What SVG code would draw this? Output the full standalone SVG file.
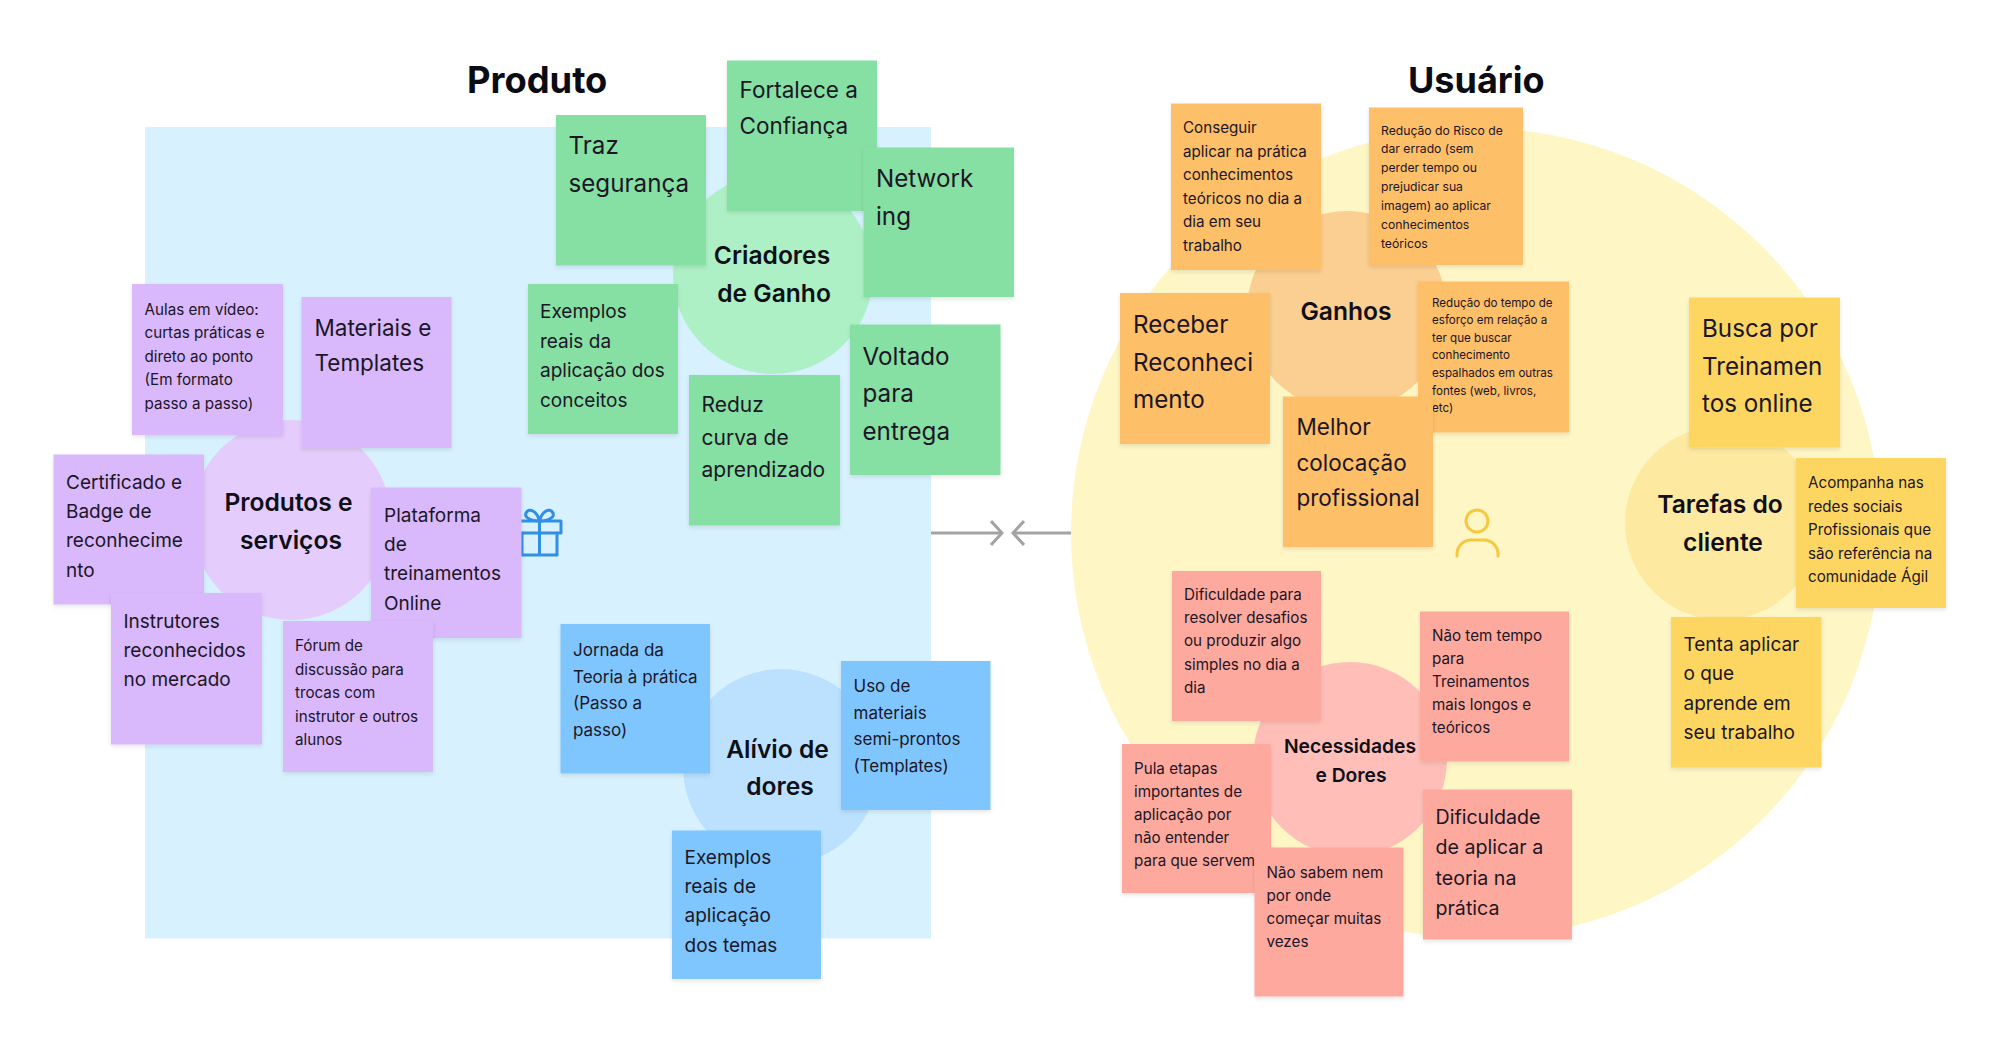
<svg xmlns="http://www.w3.org/2000/svg" width="2000" height="1055" viewBox="0 0 2000 1055">
<style>
text{font-family:Inter,"Liberation Sans",sans-serif;fill:#1c1626}
.t{font-size:36px;font-weight:700;fill:#0b0b14}
.h{font-size:24.6px;font-weight:600;text-anchor:middle;fill:#0f0f18}
.h2{font-size:19.3px}
.l{font-size:24.2px}.m2{font-size:22.5px}.m1{font-size:21px}.m3{font-size:19.6px}.m{font-size:19px}.b{font-size:17px}.s{font-size:15.2px}.xs{font-size:15.2px}.x{font-size:12.2px}.x2{font-size:11.6px}
.n{filter:url(#sh)}
.pu{fill:#d9b8fb}.gr{fill:#86dfa3}.bl{fill:#7fc6ff}.or{fill:#fdbf67}.re{fill:#fea99e}.ye{fill:#fdd662}
.ic{fill:none;stroke-width:3;stroke-linecap:round;stroke-linejoin:round}
.cn{fill:none;stroke:#a3a3a3;stroke-width:3}
</style>
<defs>
<filter id="sh" x="-5%" y="-5%" width="110%" height="112%"><feDropShadow dx="0" dy="2" stdDeviation="2" flood-color="#000" flood-opacity="0.1"/></filter>
<marker id="chev" viewBox="0 0 14 26" refX="12" refY="13" markerWidth="14" markerHeight="26" markerUnits="userSpaceOnUse" orient="auto-start-reverse"><path d="M1 1L12 13L1 25" fill="none" stroke="#a3a3a3" stroke-width="3"/></marker>
</defs>
<rect width="2000" height="1055" fill="#fff"/>
<rect x="145" y="127" width="786" height="811.5" fill="#d8f1ff"/>
<circle cx="1476" cy="533" r="405" fill="#fff6c6"/>
<text class="t" x="467" y="92.5" style="font-size:36.3px">Produto</text>
<text class="t" x="1408" y="92.5">Usuário</text>
<g id="connectors">
<line class="cn" x1="931" y1="533" x2="1002" y2="533" marker-end="url(#chev)"/>
<line class="cn" x1="1071" y1="533" x2="1013" y2="533" marker-end="url(#chev)"/>
</g>
<g id="icon-gift" class="ic" stroke="#2f8fe6"><rect x="518" y="521" width="43" height="12"/><path d="M522 533V555H557V533M539.5 521V555M539.5 521C530 521 524 517 526 513C529 507 537 511 539.5 521C542 511 550 507 553 513C555 517 549 521 539.5 521"/></g>
<g id="icon-user" class="ic" stroke="#f5c93f"><circle cx="1477" cy="521" r="11"/><path d="M1457 556V554A14 14 0 0 1 1471 540H1484A14 14 0 0 1 1498 554V556"/></g>

<g id="hub-produtos"><circle cx="291" cy="520" r="100" fill="#e4ccfc"/><text class="h" x="288.5" y="511">Produtos e</text><text class="h" x="291" y="549">serviços</text></g>
<g id="hub-criadores"><circle cx="773" cy="274" r="100" fill="#aef0c5"/><text class="h" x="772" y="264">Criadores</text><text class="h" x="774" y="302">de Ganho</text></g>
<g id="hub-alivio"><circle cx="781" cy="767" r="98" fill="#bbe1ff"/><text class="h" x="777.5" y="757.5">Alívio de</text><text class="h" x="780" y="795">dores</text></g>
<g id="hub-ganhos"><circle cx="1347" cy="311" r="100" fill="#fbce91"/><text class="h" x="1346" y="320">Ganhos</text></g>
<g id="hub-necessidades"><circle cx="1350" cy="759" r="97" fill="#ffbfb8"/><text class="h h2" x="1350" y="752.5">Necessidades</text><text class="h h2" x="1351" y="782">e Dores</text></g>
<g id="hub-tarefas"><circle cx="1722" cy="523" r="97" fill="#fde9a0"/><text class="h" x="1720" y="513">Tarefas do</text><text class="h" x="1723" y="551">cliente</text></g>

<g id="n-aulas"><rect class="n pu" x="132" y="284" width="151" height="151"/><text class="s"><tspan x="144.5" y="314.5">Aulas em vídeo:</tspan><tspan x="144.5" y="338.1">curtas práticas e</tspan><tspan x="144.5" y="361.7">direto ao ponto</tspan><tspan x="144.5" y="385.3">(Em formato</tspan><tspan x="144.5" y="408.9">passo a passo)</tspan></text></g>
<g id="n-materiais"><rect class="n pu" x="301.5" y="297" width="150" height="151"/><text class="m2"><tspan x="314.5" y="336">Materiais e</tspan><tspan x="314.5" y="371">Templates</tspan></text></g>
<g id="n-certificado"><rect class="n pu" x="53.5" y="454.5" width="150.5" height="150"/><text class="m"><tspan x="66" y="488.5">Certificado e</tspan><tspan x="66" y="517.9">Badge de</tspan><tspan x="66" y="547.3">reconhecime</tspan><tspan x="66" y="576.7">nto</tspan></text></g>
<g id="n-plataforma"><rect class="n pu" x="371" y="487.5" width="150.5" height="150.5"/><text class="m"><tspan x="384" y="521.5">Plataforma</tspan><tspan x="384" y="550.9">de</tspan><tspan x="384" y="580.3">treinamentos</tspan><tspan x="384" y="609.7">Online</tspan></text></g>
<g id="n-instrutores"><rect class="n pu" x="111" y="593" width="151" height="151.5"/><text class="m"><tspan x="123.5" y="627.5">Instrutores</tspan><tspan x="123.5" y="656.9">reconhecidos</tspan><tspan x="123.5" y="686.3">no mercado</tspan></text></g>
<g id="n-forum"><rect class="n pu" x="283" y="621" width="150" height="151"/><text class="s"><tspan x="295" y="651">Fórum de</tspan><tspan x="295" y="674.6">discussão para</tspan><tspan x="295" y="698.2">trocas com</tspan><tspan x="295" y="721.8">instrutor e outros</tspan><tspan x="295" y="745.4">alunos</tspan></text></g>

<g id="n-traz"><rect class="n gr" x="556" y="115" width="150" height="150.5"/><text class="l"><tspan x="568.5" y="154">Traz</tspan><tspan x="568.5" y="192">segurança</tspan></text></g>
<g id="n-fortalece"><rect class="n gr" x="727" y="60.5" width="150" height="150.5"/><text class="m2"><tspan x="739.5" y="98">Fortalece a</tspan><tspan x="739.5" y="133.5">Confiança</tspan></text></g>
<g id="n-network"><rect class="n gr" x="863.5" y="147.5" width="150.5" height="149.5"/><text class="l"><tspan x="876" y="186.5">Network</tspan><tspan x="876" y="225">ing</tspan></text></g>
<g id="n-exemplos-g"><rect class="n gr" x="528" y="284" width="150" height="150"/><text class="m"><tspan x="540" y="318">Exemplos</tspan><tspan x="540" y="347.5">reais da</tspan><tspan x="540" y="377">aplicação dos</tspan><tspan x="540" y="406.5">conceitos</tspan></text></g>
<g id="n-reduz"><rect class="n gr" x="689" y="375" width="151" height="150.5"/><text class="m1"><tspan x="701.5" y="412">Reduz</tspan><tspan x="701.5" y="444.6">curva de</tspan><tspan x="701.5" y="477.2">aprendizado</tspan></text></g>
<g id="n-voltado"><rect class="n gr" x="850" y="324.5" width="150.5" height="150.5"/><text class="l"><tspan x="862.5" y="364.5">Voltado</tspan><tspan x="862.5" y="402">para</tspan><tspan x="862.5" y="440">entrega</tspan></text></g>

<g id="n-jornada"><rect class="n bl" x="560.5" y="624" width="149.5" height="149.5"/><text class="b"><tspan x="573" y="656">Jornada da</tspan><tspan x="573" y="682.5">Teoria à prática</tspan><tspan x="573" y="709">(Passo a</tspan><tspan x="573" y="735.5">passo)</tspan></text></g>
<g id="n-uso"><rect class="n bl" x="841" y="661" width="149.5" height="149"/><text class="b"><tspan x="853.5" y="692">Uso de</tspan><tspan x="853.5" y="718.5">materiais</tspan><tspan x="853.5" y="745">semi-prontos</tspan><tspan x="853.5" y="771.5">(Templates)</tspan></text></g>
<g id="n-exemplos-b"><rect class="n bl" x="672" y="830.5" width="149" height="148.5"/><text class="m"><tspan x="684.5" y="864">Exemplos</tspan><tspan x="684.5" y="893.2">reais de</tspan><tspan x="684.5" y="922.4">aplicação</tspan><tspan x="684.5" y="951.6">dos temas</tspan></text></g>

<g id="n-conseguir"><rect class="n or" x="1171" y="103.5" width="150" height="166.5"/><text class="xs"><tspan x="1183" y="133">Conseguir</tspan><tspan x="1183" y="156.5">aplicar na prática</tspan><tspan x="1183" y="180">conhecimentos</tspan><tspan x="1183" y="203.5">teóricos no dia a</tspan><tspan x="1183" y="227">dia em seu</tspan><tspan x="1183" y="250.5">trabalho</tspan></text></g>
<g id="n-risco"><rect class="n or" x="1369" y="107.5" width="154" height="157.5"/><text class="x"><tspan x="1381" y="134.5">Redução do Risco de</tspan><tspan x="1381" y="153.4">dar errado (sem</tspan><tspan x="1381" y="172.3">perder tempo ou</tspan><tspan x="1381" y="191.2">prejudicar sua</tspan><tspan x="1381" y="210.1">imagem) ao aplicar</tspan><tspan x="1381" y="229">conhecimentos</tspan><tspan x="1381" y="247.9">teóricos</tspan></text></g>
<g id="n-receber"><rect class="n or" x="1120" y="293" width="150" height="151"/><text class="l"><tspan x="1133" y="333">Receber</tspan><tspan x="1133" y="370.7">Reconheci</tspan><tspan x="1133" y="408.4">mento</tspan></text></g>
<g id="n-tempo"><rect class="n or" x="1418" y="281.5" width="151" height="151"/><text class="x2"><tspan x="1432" y="306.5">Redução do tempo de</tspan><tspan x="1432" y="324.1">esforço em relação a</tspan><tspan x="1432" y="341.7">ter que buscar</tspan><tspan x="1432" y="359.3">conhecimento</tspan><tspan x="1432" y="376.9">espalhados em outras</tspan><tspan x="1432" y="394.5">fontes (web, livros,</tspan><tspan x="1432" y="412.1">etc)</tspan></text></g>
<g id="n-melhor"><rect class="n or" x="1283" y="396.5" width="150" height="150.5"/><text class="m2"><tspan x="1296.5" y="435">Melhor</tspan><tspan x="1296.5" y="470.5">colocação</tspan><tspan x="1296.5" y="506">profissional</tspan></text></g>

<g id="n-dificuldade-para"><rect class="n re" x="1172" y="571" width="149" height="150"/><text class="xs"><tspan x="1184" y="600">Dificuldade para</tspan><tspan x="1184" y="623.2">resolver desafios</tspan><tspan x="1184" y="646.4">ou produzir algo</tspan><tspan x="1184" y="669.6">simples no dia a</tspan><tspan x="1184" y="692.8">dia</tspan></text></g>
<g id="n-nao-tem"><rect class="n re" x="1420" y="611.5" width="149" height="150"/><text class="xs"><tspan x="1432" y="641">Não tem tempo</tspan><tspan x="1432" y="664.1">para</tspan><tspan x="1432" y="687.2">Treinamentos</tspan><tspan x="1432" y="710.3">mais longos e</tspan><tspan x="1432" y="733.4">teóricos</tspan></text></g>
<g id="n-pula"><rect class="n re" x="1122" y="744" width="149" height="149"/><text class="xs"><tspan x="1134" y="773.5">Pula etapas</tspan><tspan x="1134" y="796.6">importantes de</tspan><tspan x="1134" y="819.7">aplicação por</tspan><tspan x="1134" y="842.8">não entender</tspan><tspan x="1134" y="865.9">para que servem</tspan></text></g>
<g id="n-nao-sabem"><rect class="n re" x="1254.5" y="847.5" width="149" height="149"/><text class="xs"><tspan x="1266.5" y="878">Não sabem nem</tspan><tspan x="1266.5" y="901.1">por onde</tspan><tspan x="1266.5" y="924.2">começar muitas</tspan><tspan x="1266.5" y="947.3">vezes</tspan></text></g>
<g id="n-dificuldade"><rect class="n re" x="1423" y="789.5" width="149" height="150"/><text class="m3"><tspan x="1435.5" y="824">Dificuldade</tspan><tspan x="1435.5" y="854.3">de aplicar a</tspan><tspan x="1435.5" y="884.6">teoria na</tspan><tspan x="1435.5" y="914.9">prática</tspan></text></g>

<g id="n-busca"><rect class="n ye" x="1689" y="297.5" width="151" height="150"/><text class="l"><tspan x="1702" y="337">Busca por</tspan><tspan x="1702" y="374.5">Treinamen</tspan><tspan x="1702" y="412">tos online</tspan></text></g>
<g id="n-acompanha"><rect class="n ye" x="1796" y="458" width="150" height="150"/><text class="xs"><tspan x="1808" y="488">Acompanha nas</tspan><tspan x="1808" y="511.5">redes sociais</tspan><tspan x="1808" y="535">Profissionais que</tspan><tspan x="1808" y="558.5">são referência na</tspan><tspan x="1808" y="582">comunidade Ágil</tspan></text></g>
<g id="n-tenta"><rect class="n ye" x="1671" y="617" width="150.5" height="150.5"/><text class="m"><tspan x="1683.5" y="650.5">Tenta aplicar</tspan><tspan x="1683.5" y="680">o que</tspan><tspan x="1683.5" y="709.5">aprende em</tspan><tspan x="1683.5" y="739">seu trabalho</tspan></text></g>
</svg>
